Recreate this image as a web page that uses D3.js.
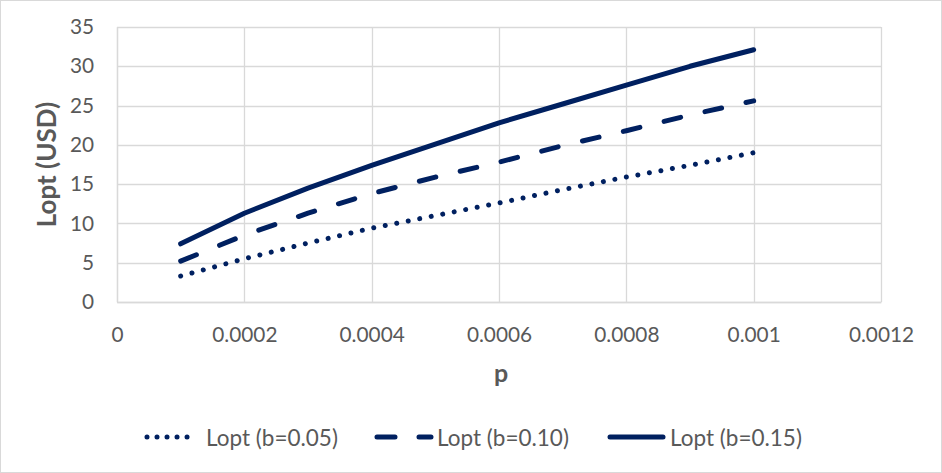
<!DOCTYPE html>
<meta charset="utf-8">
<head>
    <title>Lopt vs p</title>
    <script src="https://d3js.org/d3.v7.min.js"></script>
    <style>
        body { margin: 0; background: #fff; }
        text { font-family: Lato, "Open Sans", sans-serif; fill: #595959; }
    </style>
</head>
<body>
    <div id="chart"></div>
    <script>
        // values
        var pValues = [0.0001, 0.0002, 0.0003, 0.0004, 0.0005, 0.0006, 0.0007, 0.0008, 0.0009, 0.001];
        var lopt005 = [3.3, 5.5, 7.5, 9.4, 11.0, 12.6, 14.3, 15.9, 17.4, 19.0];
        var lopt010 = [5.2, 8.5, 11.3, 13.8, 15.9, 17.8, 19.9, 21.8, 23.8, 25.6];
        var lopt015 = [7.4, 11.3, 14.5, 17.4, 20.1, 22.8, 25.2, 27.6, 30.0, 32.1];
        var seriesNames = ["Lopt (b=0.05)", "Lopt (b=0.10)", "Lopt (b=0.15)"];
        var xTicks = [0, 0.0002, 0.0004, 0.0006, 0.0008, 0.001, 0.0012];
        var yTicks = [0, 5, 10, 15, 20, 25, 30, 35];

        var width = 942, height = 473;
        var margin = { top: 27, right: 61, bottom: 171, left: 117 };
        var color = "#002060";
        var dashes = ["0.01 11.7", "17 25", null];

        var svg = d3.select("#chart").append("svg")
            .attr("width", width)
            .attr("height", height);

        svg.append("rect")
            .attr("x", 0.5).attr("y", 0.5)
            .attr("width", width - 1).attr("height", height - 1)
            .attr("fill", "#fff").attr("stroke", "#d9d9d9");

        var x = d3.scaleLinear().domain([0, 0.0012]).range([margin.left, width - margin.right]);
        var y = d3.scaleLinear().domain([0, 35]).range([height - margin.bottom, margin.top]);

        // grid
        svg.append("g").selectAll("line").data(yTicks).enter().append("line")
            .attr("x1", x(0)).attr("x2", x(0.0012))
            .attr("y1", function(d) { return Math.round(y(d)) + 0.5; })
            .attr("y2", function(d) { return Math.round(y(d)) + 0.5; })
            .attr("stroke", "#d9d9d9").attr("stroke-width", 1.3);
        svg.append("g").selectAll("line").data(xTicks).enter().append("line")
            .attr("y1", y(0)).attr("y2", y(35))
            .attr("x1", function(d) { return Math.round(x(d)) + 0.5; })
            .attr("x2", function(d) { return Math.round(x(d)) + 0.5; })
            .attr("stroke", "#d9d9d9").attr("stroke-width", 1.3);

        // axes (labels only)
        var yAxis = svg.append("g")
            .attr("transform", "translate(" + x(0) + ",0)")
            .call(d3.axisLeft(y).tickValues(yTicks).tickSize(0).tickPadding(23));
        var xAxis = svg.append("g")
            .attr("transform", "translate(0," + y(0) + ")")
            .call(d3.axisBottom(x).tickValues(xTicks).tickSize(0).tickPadding(25)
                .tickFormat(function(d) { return d === 0 ? "0" : String(+d.toFixed(4)); }));
        [xAxis, yAxis].forEach(function(a) {
            a.select(".domain").attr("stroke", "#d9d9d9").attr("stroke-width", 1.3);
            a.selectAll("text").style("font-size", "20.8px").attr("fill", "#595959");
        });

        // axis titles
        svg.append("text")
            .attr("transform", "translate(56," + (y(17.5)) + ") rotate(-90)")
            .attr("text-anchor", "middle")
            .style("font-size", "26px").style("font-weight", "bold")
            .text("Lopt (USD)");
        svg.append("text")
            .attr("x", 501).attr("y", 382)
            .attr("text-anchor", "middle")
            .style("font-size", "25px").style("font-weight", "bold")
            .text("p");

        // lines
        var line = d3.line()
            .x(function(d, i) { return x(pValues[i]); })
            .y(function(d) { return y(d); });

        [lopt005, lopt010, lopt015].forEach(function(s, k) {
            svg.append("path")
                .attr("d", line(s))
                .attr("fill", "none")
                .attr("stroke", color)
                .attr("stroke-width", 5)
                .attr("stroke-linecap", "round")
                .attr("stroke-linejoin", "round")
                .attr("stroke-dasharray", dashes[k]);
        });

        // legend
        var legendX = [147, 377, 610];
        var legendLen = [50, 54, 53];
        var legendDash = ["0.01 10", "18 24", null];
        var legend = svg.append("g").selectAll("g").data(seriesNames).enter().append("g")
            .attr("transform", function(d, i) { return "translate(" + legendX[i] + ",437)"; });
        legend.append("line")
            .attr("x1", 0).attr("x2", function(d, i) { return legendLen[i]; })
            .attr("y1", 0).attr("y2", 0)
            .attr("stroke", color).attr("stroke-width", 5)
            .attr("stroke-linecap", "round")
            .attr("stroke-dasharray", function(d, i) { return legendDash[i]; });
        legend.append("text")
            .attr("x", function(d, i) { return [59, 60, 60][i]; })
            .attr("y", 9)
            .style("font-size", "22.5px")
            .text(function(d) { return d; });
    </script>
</body>
</html>
